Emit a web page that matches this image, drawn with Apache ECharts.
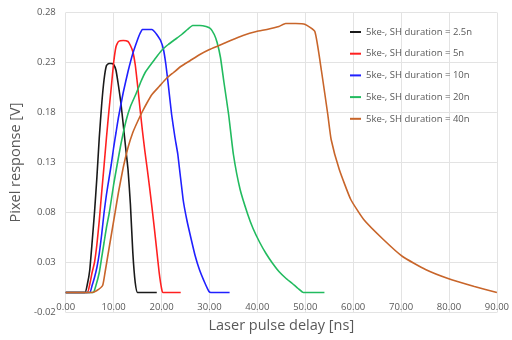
<!DOCTYPE html>
<html><head><meta charset="utf-8">
<script src="https://cdn.jsdelivr.net/npm/echarts@6/dist/echarts.min.js"></script>
<style>html,body{margin:0;padding:0;background:#fff}#c{width:512px;height:340px}</style>
</head><body><div id="c"></div>
<script>
const seriesNames = ["5ke-, SH duration = 2.5n","5ke-, SH duration = 5n","5ke-, SH duration = 10n","5ke-, SH duration = 20n","5ke-, SH duration = 40n"];
const xTitle = "Laser pulse delay [ns]";
const yTitle = "Pixel response [V]";
const sh2_5 = [[0,0],[4,0],[4.5,0.008],[5,0.022],[5.5,0.05],[6,0.08],[6.5,0.115],[7,0.155],[7.5,0.188],[8,0.213],[8.5,0.227],[9,0.229],[9.5,0.229],[10,0.228],[10.5,0.222],[11,0.207],[11.5,0.19],[12,0.168],[12.5,0.145],[13,0.123],[13.5,0.088],[14,0.04],[14.5,0.01],[15,0],[19,0]];
const sh5 = [[0,0],[4.5,0],[5,0.008],[5.5,0.02],[6,0.03],[6.5,0.048],[7,0.072],[7.5,0.1],[8,0.127],[8.5,0.155],[9,0.181],[9.5,0.205],[10,0.23],[10.5,0.246],[11,0.251],[12,0.252],[13,0.251],[13.5,0.247],[14,0.241],[14.5,0.228],[15,0.207],[15.5,0.184],[16,0.162],[16.5,0.142],[17,0.124],[17.5,0.105],[18,0.085],[18.5,0.064],[19,0.042],[19.5,0.02],[20,0.004],[20.3,0],[24,0]];
const sh10 = [[0,0],[5,0],[5.5,0.007],[6,0.015],[6.5,0.025],[7,0.039],[7.5,0.058],[8,0.08],[8.5,0.098],[9,0.113],[9.5,0.128],[10,0.145],[10.5,0.16],[11,0.175],[12,0.2],[13,0.221],[14,0.239],[15,0.253],[15.5,0.259],[16,0.263],[17,0.263],[18,0.263],[18.5,0.261],[19,0.258],[19.8,0.252],[20.4,0.243],[20.9,0.228],[21.4,0.208],[22.1,0.178],[22.8,0.155],[23.4,0.138],[24.5,0.093],[25.3,0.072],[26.2,0.053],[27,0.037],[27.9,0.023],[29,0.01],[29.9,0.001],[30.3,0],[34.2,0]];
const sh20 = [[0,0],[5.7,0],[6.3,0.007],[7,0.02],[7.5,0.035],[8,0.05],[8.5,0.065],[9.1,0.08],[10,0.108],[10.7,0.127],[11.5,0.148],[12.6,0.172],[13.5,0.186],[14.7,0.199],[15.7,0.211],[16.7,0.221],[18.7,0.234],[20,0.242],[21.4,0.248],[22.8,0.253],[24.2,0.258],[25.4,0.263],[26.5,0.267],[28,0.267],[29.3,0.266],[30.2,0.264],[31,0.258],[31.6,0.25],[32.3,0.235],[33,0.211],[34,0.178],[35,0.138],[36.4,0.103],[38,0.078],[39.1,0.064],[40.5,0.05],[41.8,0.039],[43.2,0.029],[44.5,0.021],[46,0.014],[47.3,0.009],[48.5,0.004],[49.6,0],[54,0]];
const sh40 = [[0,0],[5.5,0],[6.5,0.002],[7.7,0.007],[8.2,0.02],[9,0.043],[10.3,0.08],[11,0.1],[12,0.125],[13,0.145],[14,0.16],[15,0.171],[16,0.181],[17,0.19],[18,0.198],[19.5,0.206],[21,0.214],[22.5,0.22],[24,0.226],[26,0.232],[28,0.238],[30,0.243],[32,0.247],[34.4,0.252],[37,0.257],[39.8,0.261],[42,0.263],[44.5,0.266],[45.9,0.269],[48,0.269],[50,0.268],[52,0.261],[53.4,0.221],[54.7,0.178],[55.4,0.153],[57.1,0.123],[59.5,0.093],[62.2,0.073],[66.3,0.053],[70.3,0.036],[75.1,0.023],[79.8,0.014],[85.3,0.006],[90,0]];
const seriesData = [sh2_5, sh5, sh10, sh20, sh40];
const seriesColors = ["#1a1a1a","#ff2020","#2020ff","#22bb5f","#c8652a"];

const chart = echarts.init(document.getElementById('c'), null, {renderer:'canvas'});
const font = '"Open Sans", sans-serif';
chart.setOption({
  animation:false,
  textStyle:{fontFamily:font},
  grid:{left:58,right:12,top:12.5,bottom:27.5,containLabel:false},
  legend:{
    orient:'vertical', left:345, top:22, itemWidth:11, itemHeight:2, itemGap:11.7,
    icon:'rect',
    textStyle:{fontFamily:font,fontSize:9.5,color:'#595959'},
    data:seriesNames
  },
  xAxis:{
    type:'value', min:0, max:90, interval:10,
    name:xTitle, nameLocation:'middle', nameGap:6,
    nameTextStyle:{fontFamily:font,fontSize:14.5,color:'#595959',verticalAlign:'top'},
    axisLine:{show:false}, axisTick:{show:false},
    axisLabel:{inside:true, margin:0, fontFamily:font, fontSize:9.5, color:'#595959', formatter:v=>v.toFixed(2), verticalAlign:'bottom'},
    splitLine:{show:true,lineStyle:{color:'#e3e3e3',width:1}}
  },
  yAxis:{
    type:'value', min:-0.02, max:0.28, interval:0.05,
    name:yTitle, nameLocation:'middle', nameGap:36,
    nameTextStyle:{fontFamily:font,fontSize:14.5,color:'#595959'},
    axisLine:{show:false}, axisTick:{show:false},
    axisLabel:{margin:10, fontFamily:font, fontSize:9.5, color:'#595959', formatter:v=>v.toFixed(2)},
    splitLine:{show:true,lineStyle:{color:'#e3e3e3',width:1}}
  },
  series: seriesNames.map((n,i)=>({
    name:n, type:'line', data:seriesData[i], showSymbol:false, symbol:'none',
    smooth:0.15,
    lineStyle:{color:seriesColors[i], width:1.6},
    itemStyle:{color:seriesColors[i]}
  }))
});
</script></body></html>
